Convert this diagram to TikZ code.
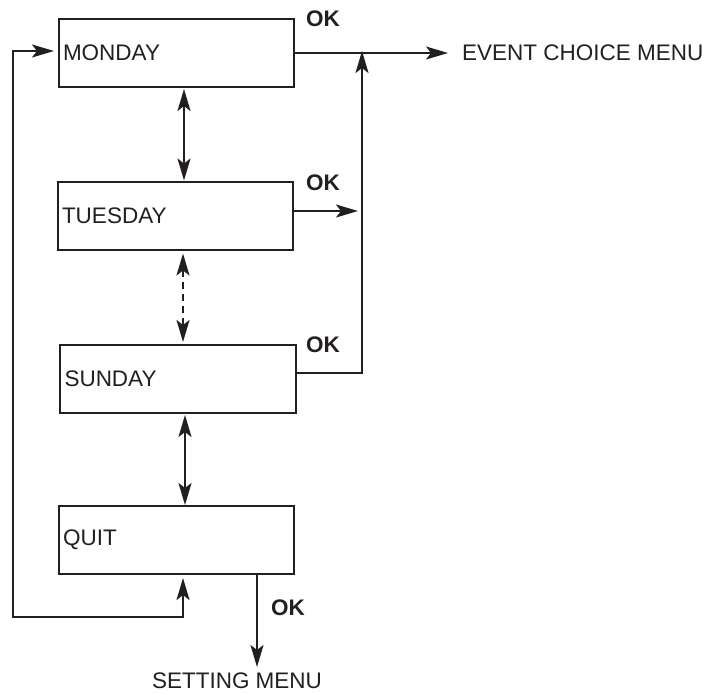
\documentclass[tikz,border=0pt]{standalone}
\usepackage{fontspec}
\setmainfont{Liberation Sans}
\usetikzlibrary{arrows.meta,calc}
\definecolor{ink}{HTML}{231F20}
\begin{document}
\begin{tikzpicture}[x=1pt,y=-1pt,
  every node/.style={font=\fontsize{22.5}{27}\selectfont, text=ink},
  daybox/.style={draw=ink, line width=2pt, rectangle, minimum width=235pt, minimum height=68pt,
     inner xsep=4pt, inner ysep=0pt, text width=227pt, align=left},
  oklbl/.style={font=\fontsize{22.5}{27}\selectfont\bfseries, inner sep=0pt},
  plain/.style={inner sep=0pt},
  conn/.style={draw=ink, line width=2pt},
  tip/.style={-{Stealth[length=22pt,width=13pt,inset=5pt]}},
  bitip/.style={{Stealth[length=22pt,width=13pt,inset=5pt]}-{Stealth[length=22pt,width=13pt,inset=5pt]}},
  dashline/.style={dash pattern=on 7pt off 5pt}
]
\useasboundingbox (0,0) rectangle (711,693);

\node[daybox] (mon) at (176.5,53) {MONDAY};
\node[daybox] (tue) at (175.5,215.5) {TUESDAY};
\node[daybox, minimum width=236pt] (sun) at (178,379) {SUNDAY};
\node[daybox] (quit) at (176.5,540) {QUIT};

\node[oklbl] (ok1) at (323,19) {OK};
\node[oklbl] (ok2) at (323,183) {OK};
\node[oklbl] (ok3) at (323,345) {OK};
\node[oklbl] (ok4) at (288,608) {OK};

\node[plain, anchor=west] (evt) at (462,53) {EVENT CHOICE MENU};
\node[plain] (set) at (237,681) {SETTING MENU};

\coordinate (vx) at (362,0);
\coordinate (lb) at (13,617);
\coordinate (setp) at (257,667);

% vertical navigation arrows
\draw[conn, bitip, shorten <=1pt] ([xshift=7.5pt]mon.south) -- ([xshift=8.5pt]tue.north);
\draw[conn, bitip, dashline, shorten <=3pt, shorten >=2pt] ([xshift=7.5pt]tue.south) -- ([xshift=5pt]sun.north);
\draw[conn, bitip, shorten <=1pt] ([xshift=7pt]sun.south) -- ([xshift=8.5pt]quit.north);

% OK exits to event choice menu
\draw[conn, tip, shorten >=14pt] (mon.east) -- (evt.west);
\draw[conn, tip, shorten >=4pt] ([yshift=4.5pt]tue.east) -- ([yshift=4.5pt]tue.east -| vx);
\draw[conn, tip, shorten >=4pt] ([yshift=6pt]sun.east) -| ([yshift=6pt]mon.east -| vx);

% quit
\draw[conn, tip] ([xshift=80.5pt]quit.south) -- (setp);
\draw[conn, bitip, shorten <=3pt, shorten >=4pt] ([xshift=6.5pt]quit.south) |- (lb) |- ([yshift=2pt]mon.west);
\end{tikzpicture}
\end{document}
